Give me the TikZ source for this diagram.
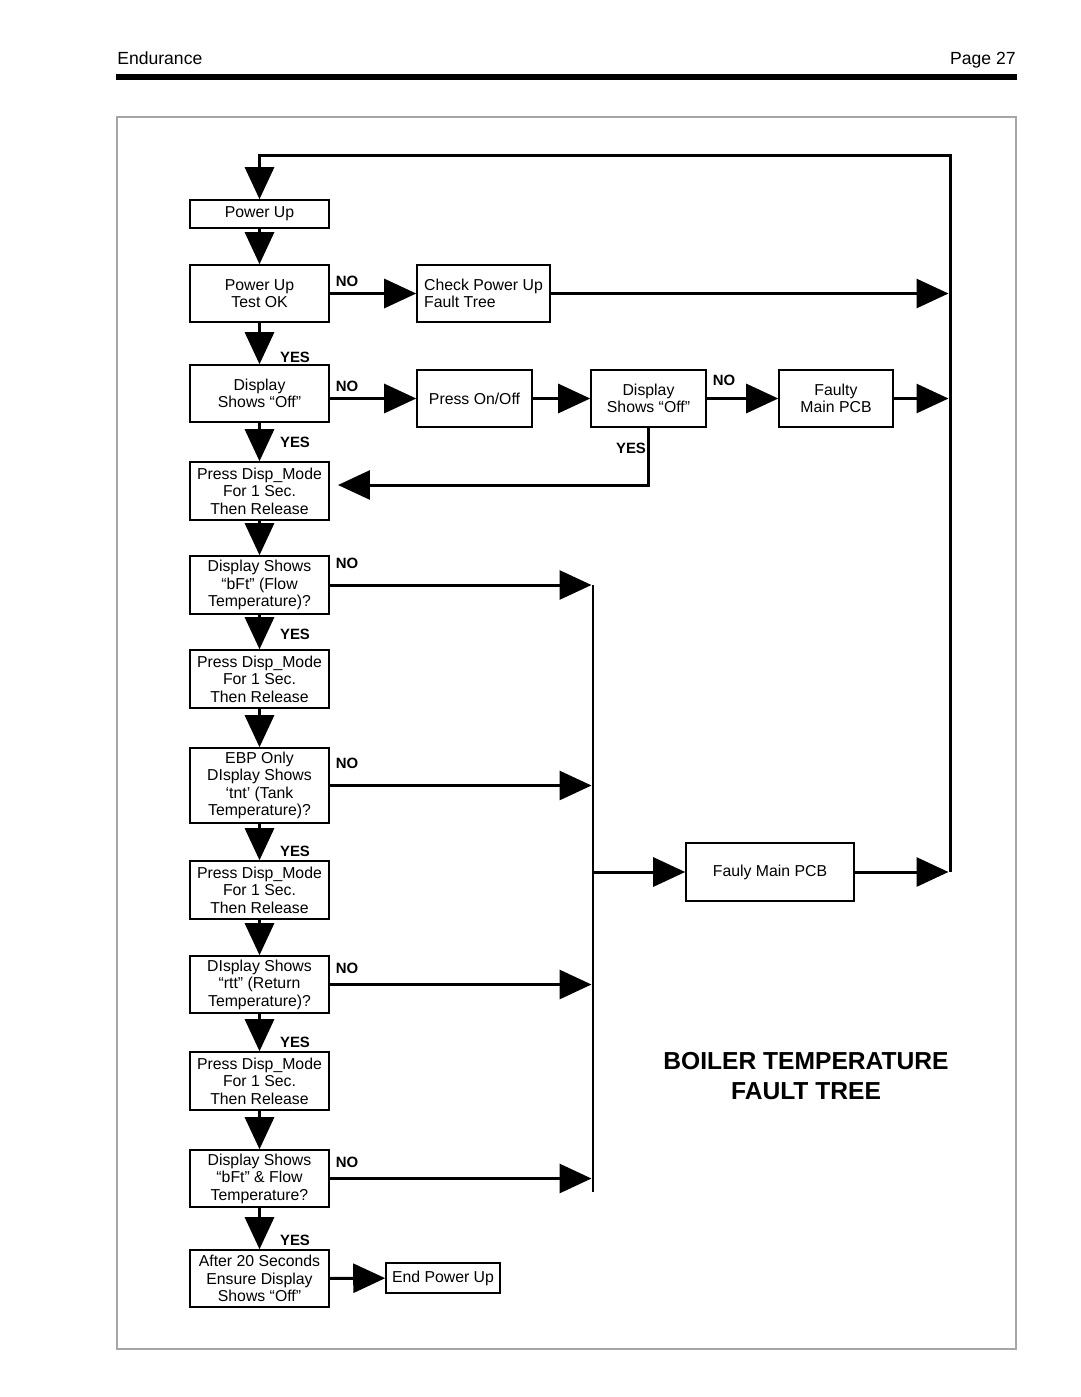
\documentclass[tikz,border=0pt]{standalone}
\usepackage{fontspec}
\setmainfont{Liberation Sans}
\usetikzlibrary{arrows.meta}

\tikzset{
	stepbox/.style={draw, line width=0.9pt, inner sep=0pt, align=center,
		minimum width=2.78cm, minimum height=1.14cm,
		font=\fontsize{9}{10}\selectfont},
	flow/.style={line width=1.7pt, -{Triangle[length=0.64cm, width=0.58cm]}},
	answer/.style={font=\bfseries\fontsize{8.5}{10}\selectfont, inner sep=0pt},
}

\begin{document}
\begin{tikzpicture}[x=0.02cm, y=-0.02cm]
		\useasboundingbox (0,0) rectangle (1080,1397);
		% page header and frame
		\node[anchor=base west, inner sep=0pt, font=\fontsize{10}{12}\selectfont] (hdrL) at (117,64) {Endurance};
		\node[anchor=base east, inner sep=0pt, font=\fontsize{10}{12}\selectfont] (hdrR) at (1016,64) {Page 27};
		\fill (116,74) rectangle (1017,80);
		\draw[gray!70, line width=0.7pt] (117,117) rectangle (1016,1349);

		% main column
		\node[stepbox, minimum height=0.56cm] (pu) at (259.5,214) {Power Up};
		\node[stepbox] (put) at (259.5,293.5) {Power Up\\Test OK};
		\node[stepbox] (off) at (259.5,393.5) {Display\\Shows “Off”};
		\node[stepbox, minimum height=1.16cm] (pdm1) at (259.5,491) {Press Disp\_Mode\\For 1 Sec.\\Then Release};
		\node[stepbox, minimum height=1.16cm] (bft) at (259.5,585) {Display Shows\\“bFt” (Flow\\Temperature)?};
		\node[stepbox, minimum height=1.16cm] (pdm2) at (259.5,679) {Press Disp\_Mode\\For 1 Sec.\\Then Release};
		\node[stepbox, minimum height=1.5cm] (tnt) at (259.5,785.5) {EBP Only\\DIsplay Shows\\‘tnt’ (Tank\\Temperature)?};
		\node[stepbox, minimum height=1.16cm] (pdm3) at (259.5,890) {Press Disp\_Mode\\For 1 Sec.\\Then Release};
		\node[stepbox] (rtt) at (259.5,984.5) {DIsplay Shows\\“rtt” (Return\\Temperature)?};
		\node[stepbox, minimum height=1.16cm] (pdm4) at (259.5,1081) {Press Disp\_Mode\\For 1 Sec.\\Then Release};
		\node[stepbox] (bft2) at (259.5,1178.5) {Display Shows\\“bFt” \& Flow\\Temperature?};
		\node[stepbox] (after) at (259.5,1278.5) {After 20 Seconds\\Ensure Display\\Shows “Off”};

		% side boxes
		\node[stepbox, minimum width=2.66cm, align=left] (cpu) at (483.5,293.5) {Check Power Up\\Fault Tree};
		\node[stepbox, minimum width=2.3cm] (onoff) at (474.5,398.5) {Press On/Off};
		\node[stepbox, minimum width=2.3cm] (off2) at (648.5,398.5) {Display\\Shows “Off”};
		\node[stepbox, minimum width=2.28cm] (pcb1) at (836,398.5) {Faulty\\Main PCB};
		\node[stepbox, minimum width=3.36cm, minimum height=1.16cm] (pcb2) at (770,872) {Fauly Main PCB};
		\node[stepbox, minimum width=2.28cm, minimum height=0.6cm] (end) at (443,1278) {End Power Up};

		\node[align=center, inner sep=0pt, font=\bfseries\fontsize{14}{17}\selectfont] (title) at (806,1076) {BOILER TEMPERATURE\\FAULT TREE};

		% answers
		\node[answer] (no1) at (347,281) {NO};
		\node[answer] (yes1) at (295,357) {YES};
		\node[answer] (no2) at (347,386) {NO};
		\node[answer] (yes2) at (295,442) {YES};
		\node[answer] (no3) at (724,380) {NO};
		\node[answer] (yes3) at (631,448) {YES};
		\node[answer] (no4) at (347,563) {NO};
		\node[answer] (yes4) at (295,634) {YES};
		\node[answer] (no5) at (347,763) {NO};
		\node[answer] (yes5) at (295,851) {YES};
		\node[answer] (no6) at (347,968) {NO};
		\node[answer] (yes6) at (295,1042) {YES};
		\node[answer] (no7) at (347,1162) {NO};
		\node[answer] (yes7) at (295,1240) {YES};

		% return loop and bus
		\coordinate (loopL) at (259.5,155);
		\coordinate (loopR) at (950,155);
		\coordinate (loopB) at (950,872);
		\coordinate (busT) at (593,585);
		\coordinate (busB) at (593,1192);
		\coordinate (back) at (338,485);

		\draw[flow] (loopB) -- (loopR) -- (loopL) -- (pu);
		\draw[line width=1.7pt] (busT) -- (busB);

		\path[flow]
		(pu) edge (put)
		(put) edge (off)
		     edge (cpu)
		(off) edge (pdm1)
		(pdm1) edge (bft)
		(bft) edge (pdm2)
		(pdm2) edge (tnt)
		(tnt) edge (pdm3)
		(pdm3) edge (rtt)
		(rtt) edge (pdm4)
		(pdm4) edge (bft2)
		(bft2) edge (after)
		(after) edge (end)
		(onoff) edge (off2)
		(off2) edge (pcb1);
		\draw[flow] (onoff.west -| off.east) -- (onoff.west);
		\draw[flow] (off2.south) |- (back);
		\draw[flow] (pcb2.west -| busT) -- (pcb2.west);
		\draw[flow, shorten >=0.85pt] (cpu.east) -- (cpu.east -| loopB);
		\draw[flow, shorten >=0.85pt] (pcb1.east) -- (pcb1.east -| loopB);
		\draw[flow, shorten >=0.85pt] (pcb2.east) -- (loopB);
		\foreach \q in {bft,tnt,rtt,bft2}
			\draw[flow, shorten >=0.85pt] (\q.east) -- (\q.east -| busT);
\end{tikzpicture}
\end{document}
